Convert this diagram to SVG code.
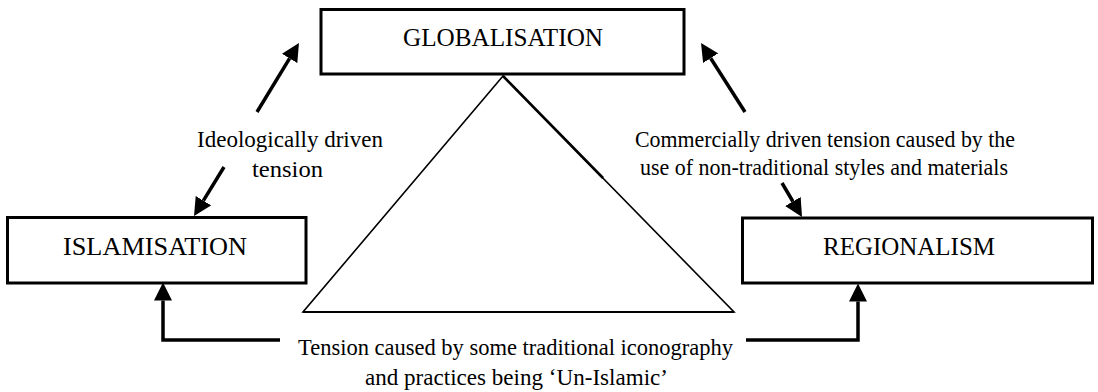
<svg xmlns="http://www.w3.org/2000/svg" width="1098" height="392" viewBox="0 0 1098 392">
<style>
.box{fill:#fff;stroke:#000;stroke-width:3}
text{font-family:'Liberation Serif','DejaVu Serif',serif;fill:#000}
.node{font-size:26px}
.lbl{font-size:24px}
.conn{fill:none;stroke:#000;stroke-width:3.5}
.tri{fill:none;stroke:#000;stroke-width:1.6}
</style>
<defs>
<marker id="ah" viewBox="0 0 18 18" refX="0" refY="9" markerWidth="18" markerHeight="18" markerUnits="userSpaceOnUse" orient="auto">
<path d="M0,0 L18,9 L0,18 Z" fill="#000"/>
</marker>
</defs>
<rect width="1098" height="392" fill="#fff"/>
<g id="triangle">
<polygon class="tri" points="503,76 303,312 734,312"/>
<line x1="303" y1="312" x2="734" y2="312" stroke="#000" stroke-width="2"/>
<line x1="503" y1="76" x2="603" y2="178" stroke="#000" stroke-width="2.6"/>
</g>
<g id="globalisation" font-family="Liberation Serif, serif">
<rect class="box" x="321" y="9.5" width="363" height="64.5"/>
<text class="node" x="403" y="46" textLength="200" lengthAdjust="spacingAndGlyphs">GLOBALISATION</text>
</g>
<g id="islamisation" font-family="Liberation Serif, serif">
<rect class="box" x="7.5" y="217.5" width="298.5" height="65.5"/>
<text class="node" x="63" y="255" textLength="184" lengthAdjust="spacingAndGlyphs">ISLAMISATION</text>
</g>
<g id="regionalism" font-family="Liberation Serif, serif">
<rect class="box" x="742.5" y="218" width="350" height="65"/>
<text class="node" x="823" y="255" textLength="172" lengthAdjust="spacingAndGlyphs">REGIONALISM</text>
</g>
<g id="connectors">
<line class="conn" x1="257" y1="112" x2="289.6" y2="58.4" marker-end="url(#ah)"/>
<line class="conn" x1="224" y1="167" x2="203.4" y2="200.7" marker-end="url(#ah)"/>
<line class="conn" x1="745" y1="112" x2="710.7" y2="58.2" marker-end="url(#ah)"/>
<line class="conn" x1="782" y1="183" x2="792.9" y2="201.5" marker-end="url(#ah)"/>
<polyline class="conn" points="280,340 163,340 163,300.5" marker-end="url(#ah)"/>
<polyline class="conn" points="746,340 858,340 858,301.5" marker-end="url(#ah)"/>
</g>
<g id="labels" font-family="Liberation Serif, serif">
<text class="lbl" x="197" y="147" textLength="186" lengthAdjust="spacingAndGlyphs">Ideologically driven</text>
<text class="lbl" x="252" y="177" textLength="71" lengthAdjust="spacingAndGlyphs">tension</text>
<text class="lbl" x="635" y="147" textLength="380" lengthAdjust="spacingAndGlyphs">Commercially driven tension caused by the</text>
<text class="lbl" x="640" y="175" textLength="368" lengthAdjust="spacingAndGlyphs">use of non-traditional styles and materials</text>
<text class="lbl" x="298" y="355" textLength="435" lengthAdjust="spacingAndGlyphs">Tension caused by some traditional iconography</text>
<text class="lbl" x="365" y="385" textLength="303" lengthAdjust="spacingAndGlyphs">and practices being ‘Un-Islamic’</text>
</g>
</svg>
